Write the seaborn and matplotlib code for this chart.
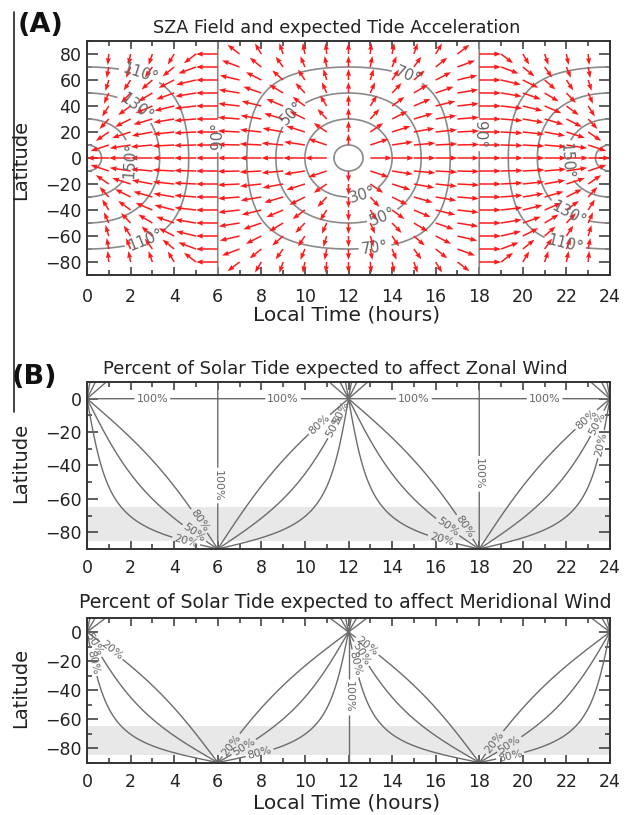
import numpy as np
import matplotlib
matplotlib.use("Agg")
import matplotlib.pyplot as plt
from matplotlib.lines import Line2D
import seaborn as sns

sns.set_theme(style="ticks")
plt.rcParams["font.family"] = ["DejaVu Sans"]

# ---------------------------------------------------------------- parameters
W, H, DPI = 631, 815, 100

SUBSOLAR_LT = 12.0        # local time of the subsolar point (hours)
DECLINATION = 0.0         # solar declination (deg), equinox

# solar zenith angle contours (deg) and where their labels sit (LT, lat)
sza_levels = [10, 30, 50, 70, 90, 110, 130, 150, 170]
sza_label_pos = [(2.5, 69), (2.4, 42), (1.9, -2), (2.6, -60), (5.75, 17),
                 (9.2, 38), (14.8, 67), (17.75, 18), (12.6, -25),
                 (13.5, -42), (13.2, -66), (22.1, -2), (22.2, -39),
                 (22.0, -61)]

# acceleration arrow grid
arrow_lt = np.arange(1, 24, 1)
arrow_lat = np.arange(-80, 81, 10)
arrow_dx_hours = 1.0      # arrow reach along local time (hours)
arrow_dy_deg = 8.5        # arrow reach along latitude (deg)

# percent contours
pct_levels = [20, 50, 80]
zonal_label_pos = [(4.6, -83), (11.75, -9), (16.3, -83), (23.5, -27),
                   (5.0, -79), (11.2, -15), (16.6, -76), (23.3, -14),
                   (5.4, -71), (10.5, -13), (17.3, -77), (22.8, -11)]
zonal_full_pos = [(3, 0), (9, 0), (15, 0), (21, 0), (6, -52), (18, -45)]
merid_label_pos = [(1.1, -13), (6.45, -76), (12.9, -9), (18.6, -75),
                   (0.4, -8), (7.1, -77), (12.7, -14), (19.4, -78),
                   (0.5, -20), (7.9, -82), (12.5, -21), (19.4, -84)]
merid_full_pos = [(12, -45)]

band_lat = (-85, -65)     # shaded latitude band

lt_major = np.arange(0, 25, 2)
lt_minor = np.arange(0, 25, 1)
latA_major = np.arange(-80, 81, 20)
latA_minor = np.arange(-90, 91, 10)
latB_major = np.arange(-80, 1, 20)
latB_minor = np.arange(-90, 11, 10)

titles = ["SZA Field and expected Tide Acceleration",
          "Percent of Solar Tide expected to affect Zonal Wind",
          "Percent of Solar Tide expected to affect Meridional Wind"]

ARROW_RED = "#ff1a1a"
SZA_GREY = "#8a8a8a"
PCT_GREY = "#6c6c6c"
TEXT = "#222222"


# ---------------------------------------------------------------- geometry
def hour_angle(lt):
    return np.deg2rad((lt - SUBSOLAR_LT) * 15.0)


def sza(lt, lat):
    h, p, d = hour_angle(lt), np.deg2rad(lat), np.deg2rad(DECLINATION)
    c = np.sin(p) * np.sin(d) + np.cos(p) * np.cos(d) * np.cos(h)
    return np.rad2deg(np.arccos(np.clip(c, -1, 1)))


def sza_gradient(lt, lat):
    """Components of grad(SZA) along longitude and latitude."""
    h, p, d = hour_angle(lt), np.deg2rad(lat), np.deg2rad(DECLINATION)
    gx = np.cos(p) * np.cos(d) * np.sin(h)
    gy = np.sin(p) * np.cos(d) * np.cos(h) - np.cos(p) * np.sin(d)
    return gx, gy


def zonal_percent(lt, lat):
    gx, gy = sza_gradient(lt, lat)
    return 100.0 * np.abs(gx) / np.hypot(gx, gy)


# ---------------------------------------------------------------- figure
fig = plt.figure(figsize=(W / DPI, H / DPI), dpi=DPI)


def px_axes(left, top, right, bottom):
    return fig.add_axes([left / W, 1 - bottom / H, (right - left) / W,
                         (bottom - top) / H])


def style(ax, ymaj, ymin, ylim, xpad):
    ax.set_xlim(0, 24)
    ax.set_ylim(*ylim)
    ax.set_xticks(lt_major)
    ax.set_xticks(lt_minor, minor=True)
    ax.set_yticks(ymaj)
    ax.set_yticks(ymin, minor=True)
    ax.tick_params(which="both", direction="in", top=True, right=True,
                   color="#333333", labelcolor=TEXT, labelsize=12.5, width=1.1)
    ax.tick_params(axis="x", which="major", length=6, pad=xpad)
    ax.tick_params(axis="x", which="minor", length=3.3)
    ax.tick_params(axis="y", which="major", length=8, pad=4)
    ax.tick_params(axis="y", which="minor", length=3.6)
    for s in ax.spines.values():
        s.set_color("#333333")
        s.set_linewidth(1.4)


axA = px_axes(87, 41, 610, 275)
axB1 = px_axes(87, 382, 610, 549)
axB2 = px_axes(87, 617.5, 610, 762.5)

style(axA, latA_major, latA_minor, (-90, 90), 9)
style(axB1, latB_major, latB_minor, (-90, 10), 7.5)
style(axB2, latB_major, latB_minor, (-90, 10), 7.5)

# ---- panel A: SZA contours and acceleration arrows
ltA = np.linspace(0, 24, 962)
latA = np.linspace(-89.95, 89.95, 721)
LTA, LATA = np.meshgrid(ltA, latA)
csA = axA.contour(LTA, LATA, sza(LTA, LATA), levels=sza_levels,
                  colors=SZA_GREY, linewidths=1.2, zorder=2)
axA.clabel(csA, manual=sza_label_pos, inline=True, inline_spacing=3,
           fmt=lambda v: f"{v:.0f}°", fontsize=11, colors="#666666")

XA, YA = np.meshgrid(arrow_lt, arrow_lat)
gx, gy = sza_gradient(XA, YA)
norm = np.hypot(gx, gy)
norm[norm < 1e-9] = np.nan
U = arrow_dx_hours * gx / norm
V = arrow_dy_deg * gy / norm
axA.quiver(XA, YA, U, V, angles="xy", scale_units="xy", scale=1,
           color=ARROW_RED, width=0.0029, headwidth=3.4, headlength=4.6,
           headaxislength=4.2, zorder=3)

# ---- panels B: share of the tide acting on each wind component
ltB = np.linspace(0, 24, 962)
latB = np.linspace(-90, 10, 402)
LTB, LATB = np.meshgrid(ltB, latB)
zonal = zonal_percent(LTB, LATB)
meridional = 100.0 - zonal
gxB, gyB = sza_gradient(LTB, LATB)

for ax in (axB1, axB2):
    ax.axhspan(*band_lat, color="#e8e8e8", lw=0, zorder=0)

fmt_pct = lambda v: f"{v:.0f}%"
full_fmt = lambda v: "100%"

cs = axB1.contour(LTB, LATB, zonal, levels=pct_levels, colors=PCT_GREY,
                  linewidths=1.0, zorder=2)
axB1.clabel(cs, manual=zonal_label_pos, inline=True, inline_spacing=2,
            fmt=fmt_pct, fontsize=8, colors="#666666")
cs = axB1.contour(LTB, LATB, gyB, levels=[0], colors=PCT_GREY,
                  linewidths=1.0, zorder=2)
axB1.clabel(cs, manual=zonal_full_pos, inline=True, inline_spacing=2,
            fmt=full_fmt, fontsize=8, colors="#666666")

cs = axB2.contour(LTB, LATB, meridional, levels=pct_levels, colors=PCT_GREY,
                  linewidths=1.0, zorder=2)
axB2.clabel(cs, manual=merid_label_pos, inline=True, inline_spacing=2,
            fmt=fmt_pct, fontsize=8, colors="#666666")
cs = axB2.contour(LTB, LATB, gxB, levels=[0], colors=PCT_GREY,
                  linewidths=1.0, zorder=2)
axB2.clabel(cs, manual=merid_full_pos, inline=True, inline_spacing=2,
            fmt=full_fmt, fontsize=8, colors="#666666")

# ---- text
fig.text(337 / W, 1 - 28 / H, titles[0], ha="center", va="center",
         fontsize=12.7, color=TEXT)
fig.text(335 / W, 1 - 369 / H, titles[1], ha="center", va="center",
         fontsize=13.0, color=TEXT)
fig.text(345 / W, 1 - 603 / H, titles[2], ha="center", va="center",
         fontsize=13.6, color=TEXT)

for y in (315, 803):
    fig.text(347 / W, 1 - y / H, "Local Time (hours)", ha="center",
             va="center", fontsize=14.5, color=TEXT)
for y in (160, 463, 688):
    fig.text(21 / W, 1 - y / H, "Latitude", ha="center", va="center",
             rotation=90, fontsize=14, color=TEXT)

fig.text(41 / W, 1 - 25 / H, "(A)", ha="center", va="center",
         fontsize=19.5, fontweight="bold", color="#111111")
fig.text(34 / W, 1 - 377 / H, "(B)", ha="center", va="center",
         fontsize=19.5, fontweight="bold", color="#111111")
fig.add_artist(Line2D([14 / W, 14 / W], [1 - 12 / H, 1 - 412 / H],
                      color="#222222", lw=1.2))

fig.savefig("out.png", dpi=DPI)
